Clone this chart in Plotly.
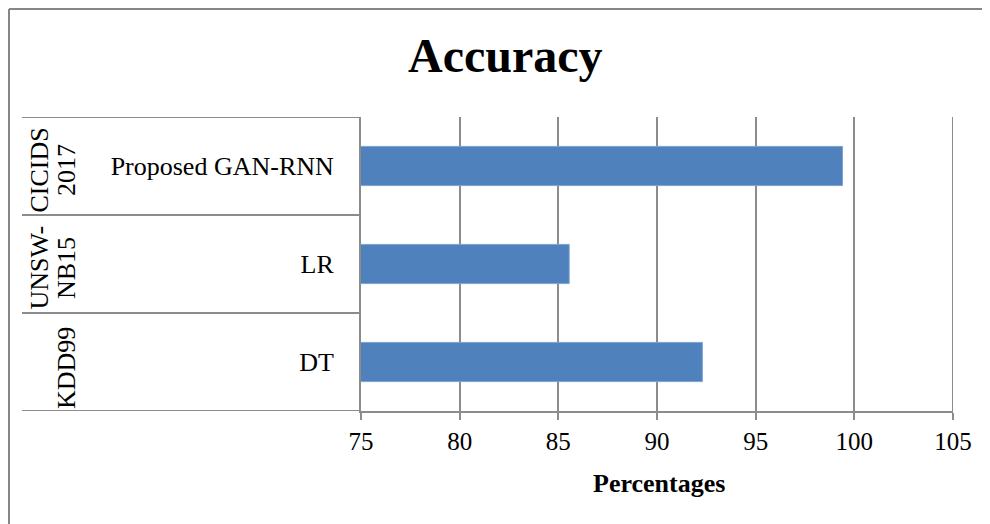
import plotly.graph_objects as go

# ---- data ----
methods = ["DT", "LR", "Proposed GAN-RNN"]
datasets_line1 = ["KDD99", "UNSW-", "CICIDS"]
datasets_line2 = ["", "NB15", "2017"]
accuracy = [92.3, 85.55, 99.4]
x_ticks = [75, 80, 85, 90, 95, 100, 105]

# page body has an 8px margin, so work in reference pixels minus 8
OFF = 8
W, H = 990 - OFF, 524 - OFF
L, R = 361 - OFF, 953 - OFF
T, B = 117 - OFF, 411 - OFF
pw, ph = R - L, B - T

def px(x):
    return (x - OFF - L) / pw

def py(y):
    return (B - (y - OFF)) / ph

GRID = "#8c8c8c"
FONT = "Liberation Serif, Times New Roman, serif"

fig = go.Figure()
fig.add_trace(go.Bar(
    y=methods, x=accuracy, orientation="h",
    marker=dict(color="#4F81BD", line=dict(color="#7fa3d3", width=1)),
    width=0.4, showlegend=False,
))

shapes = []
for yb in [-0.5, 0.5, 1.5, 2.5]:
    shapes.append(dict(type="line", xref="paper", yref="y",
                       x0=px(22), x1=0, y0=yb, y1=yb,
                       line=dict(color=GRID, width=2)))
shapes.append(dict(type="line", xref="x", yref="paper", x0=105, x1=105,
                   y0=0, y1=1, line=dict(color=GRID, width=2)))
shapes.append(dict(type="line", xref="paper", yref="paper",
                   x0=px(9), x1=px(9), y0=py(9), y1=py(540),
                   line=dict(color="#868686", width=2)))
shapes.append(dict(type="line", xref="paper", yref="paper",
                   x0=px(9), x1=px(1000), y0=py(9), y1=py(9),
                   line=dict(color="#868686", width=2)))

annotations = []
shift = [-6, -4, -4]
for i, (l1, l2) in enumerate(zip(datasets_line1, datasets_line2)):
    if l2:
        annotations.append(dict(text=l1, xref="paper", yref="y", x=px(38.5), y=i, yshift=shift[i],
                                textangle=-90, showarrow=False, xanchor="center", yanchor="middle",
                                font=dict(family=FONT, size=26, color="black")))
        annotations.append(dict(text=l2, xref="paper", yref="y", x=px(66), y=i, yshift=shift[i],
                                textangle=-90, showarrow=False, xanchor="center", yanchor="middle",
                                font=dict(family=FONT, size=26, color="black")))
    else:
        annotations.append(dict(text=l1, xref="paper", yref="y", x=px(66), y=i, yshift=shift[i],
                                textangle=-90, showarrow=False, xanchor="center", yanchor="middle",
                                font=dict(family=FONT, size=26, color="black")))

annotations.append(dict(text="<b>Percentages</b>", xref="paper", yref="paper",
                        x=px(659), y=py(467), xanchor="center", yanchor="top", showarrow=False,
                        font=dict(family=FONT, size=26, color="black")))
annotations.append(dict(text="<b>Accuracy</b>", xref="paper", yref="paper",
                        x=px(505), y=py(27), xanchor="center", yanchor="top", showarrow=False,
                        font=dict(family=FONT, size=48, color="black")))

fig.update_layout(
    width=W, height=H,
    margin=dict(l=L, r=W - R, t=T, b=H - B),
    paper_bgcolor="white", plot_bgcolor="white",
    shapes=shapes, annotations=annotations,
    font=dict(family=FONT, size=26, color="black"),
    xaxis=dict(range=[75, 105], tickvals=x_ticks, ticktext=[str(v) for v in x_ticks],
               showgrid=True, gridcolor=GRID, gridwidth=2,
               showline=True, linecolor=GRID, linewidth=2,
               ticks="outside", ticklen=7, tickwidth=2, tickcolor=GRID,
               zeroline=False, fixedrange=True,
               tickfont=dict(family=FONT, size=25, color="black")),
    yaxis=dict(categoryorder="array", categoryarray=methods, range=[-0.5, 2.5],
               showgrid=False, showline=True, linecolor=GRID, linewidth=2,
               ticks="", ticklabelstandoff=20, zeroline=False,
               tickfont=dict(family=FONT, size=26, color="black")),
    bargap=0.6,
)

fig.write_html("out.html")
